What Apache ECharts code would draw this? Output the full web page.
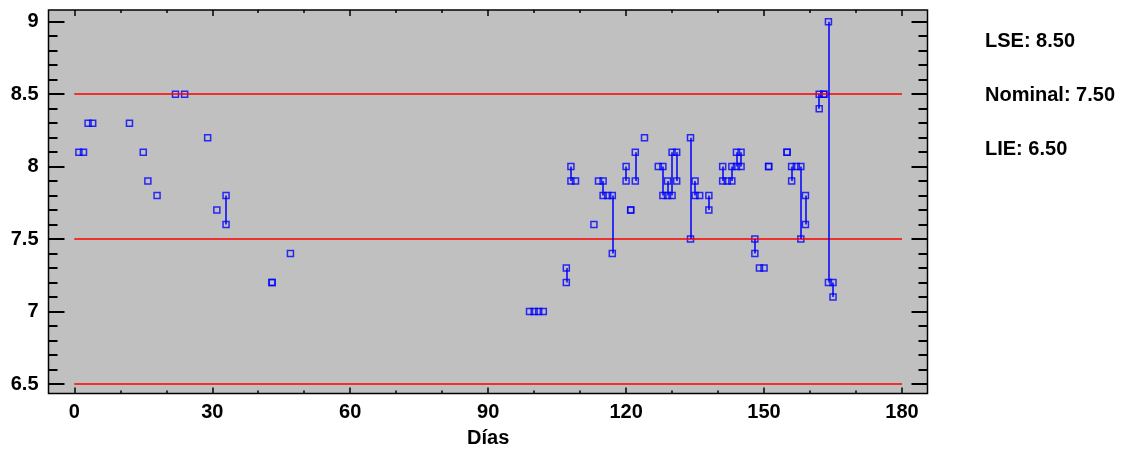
<!DOCTYPE html>
<html>
<head>
<meta charset="utf-8">
<script src="https://cdn.jsdelivr.net/npm/echarts@6/dist/echarts.min.js"></script>
<style>
  html, body { margin: 0; padding: 0; background: #fff; }
  #chart { width: 1121px; height: 449px; }
</style>
</head>
<body>
<div id="chart"></div>
<script>
// día de cada medición y su valor (mismo orden)
const dias = [
  1, 2, 3, 4, 12, 15, 16, 18, 22, 24, 29, 31, 33, 33, 43, 43, 47,
  99, 100, 101, 102, 107, 107, 108, 108, 109, 113, 114, 115, 115, 116, 117, 117,
  120, 120, 121, 121, 122, 122, 124, 127, 128, 128, 129, 129, 130, 130, 131, 131,
  134, 134, 135, 135, 136, 138, 138, 141, 141, 142, 143, 143, 144, 144, 145, 145,
  148, 148, 149, 150, 151, 151, 155, 155, 156, 156, 157, 158, 158, 159, 159,
  162, 162, 163, 163, 164, 164, 165, 165
];
const valores = [
  8.1, 8.1, 8.3, 8.3, 8.3, 8.1, 7.9, 7.8, 8.5, 8.5, 8.2, 7.7, 7.8, 7.6, 7.2, 7.2, 7.4,
  7.0, 7.0, 7.0, 7.0, 7.3, 7.2, 8.0, 7.9, 7.9, 7.6, 7.9, 7.9, 7.8, 7.8, 7.8, 7.4,
  8.0, 7.9, 7.7, 7.7, 8.1, 7.9, 8.2, 8.0, 8.0, 7.8, 7.9, 7.8, 8.1, 7.8, 8.1, 7.9,
  8.2, 7.5, 7.9, 7.8, 7.8, 7.8, 7.7, 8.0, 7.9, 7.9, 8.0, 7.9, 8.1, 8.0, 8.1, 8.0,
  7.5, 7.4, 7.3, 7.3, 8.0, 8.0, 8.1, 8.1, 8.0, 7.9, 8.0, 8.0, 7.5, 7.8, 7.6,
  8.5, 8.4, 8.5, 8.5, 9.0, 7.2, 7.2, 7.1
];

// límites de especificación
const nombresLimite = ['LSE', 'Nominal', 'LIE'];
const limites = [8.5, 7.5, 6.5];

const fuente = '"Liberation Sans", Arial, sans-serif';

const chart = echarts.init(document.getElementById('chart'));

// puntos
const puntos = dias.map((d, i) => [d, valores[i]]);

// línea vertical entre el mínimo y el máximo de cada día
const rangos = {};
dias.forEach((d, i) => {
  const v = valores[i];
  if (!rangos[d]) {
    rangos[d] = { min: v, max: v };
  } else {
    rangos[d].min = Math.min(rangos[d].min, v);
    rangos[d].max = Math.max(rangos[d].max, v);
  }
});
const lineasRango = Object.keys(rangos)
  .filter(d => rangos[d].max > rangos[d].min)
  .map(d => [{ coord: [Number(d), rangos[d].min] }, { coord: [Number(d), rangos[d].max] }]);

const ejeX = (pos, offset, conEtiquetas) => ({
  type: 'value',
  position: pos,
  offset: offset,
  min: 0,
  max: 180,
  interval: 30,
  axisLine: { show: false, onZero: false },
  axisTick: { inside: true, length: 6, lineStyle: { color: '#000', width: 1.5 } },
  minorTick: { show: true, splitNumber: 3, length: 3, lineStyle: { color: '#000', width: 1.5 } },
  splitLine: { show: false },
  axisLabel: {
    show: conEtiquetas,
    margin: 9,
    color: '#000',
    fontSize: 20,
    fontWeight: 'bold',
    fontFamily: fuente
  },
  name: conEtiquetas ? 'Días' : '',
  nameLocation: 'middle',
  nameGap: 35,
  nameTextStyle: { color: '#000', fontSize: 20, fontWeight: 'bold', fontFamily: fuente }
});

const ejeY = (pos, offset, conEtiquetas) => ({
  type: 'value',
  position: pos,
  offset: offset,
  min: 6.5,
  max: 9,
  interval: 0.5,
  axisLine: { show: false, onZero: false },
  axisTick: { inside: true, length: 16, lineStyle: { color: '#000', width: 2 } },
  minorTick: { show: true, splitNumber: 5, length: 9, lineStyle: { color: '#000', width: 2 } },
  splitLine: { show: false },
  axisLabel: {
    show: conEtiquetas,
    margin: 10,
    color: '#000',
    fontSize: 20,
    fontWeight: 'bold',
    fontFamily: fuente
  }
});

const options = {
  animation: false,
  grid: { left: 74.3, right: 219, top: 21.7, bottom: 65, containLabel: false, outerBoundsMode: 'none' },
  xAxis: [ejeX('bottom', 9.5, true), ejeX('top', 11.7, false)],
  yAxis: [ejeY('left', 25.8, true), ejeY('right', 25.5, false)],
  graphic: [
    {
      type: 'rect',
      z: -10,
      silent: true,
      shape: { x: 48.5, y: 10, width: 879, height: 383.5 },
      style: { fill: '#c0c0c0', stroke: '#000', lineWidth: 1.5 }
    },
    ...nombresLimite.map((n, i) => ({
      type: 'text',
      left: 985,
      top: 31 + i * 54,
      style: {
        text: n + ': ' + limites[i].toFixed(2),
        fill: '#000',
        font: 'bold 20px ' + fuente
      }
    }))
  ],
  series: [
    {
      name: 'limites',
      type: 'scatter',
      data: [],
      z: 1,
      markLine: {
        silent: true,
        symbol: 'none',
        label: { show: false },
        lineStyle: { color: '#ff0000', width: 1.5, type: 'solid' },
        data: limites.map(v => ({ yAxis: v }))
      }
    },
    {
      name: 'valores',
      type: 'scatter',
      data: puntos,
      z: 3,
      clip: false,
      symbol: 'rect',
      symbolSize: 6,
      itemStyle: { color: 'rgba(0,0,0,0)', borderColor: '#0000ff', borderWidth: 1.5 },
      emphasis: { disabled: true },
      markLine: {
        silent: true,
        symbol: 'none',
        label: { show: false },
        lineStyle: { color: '#0000ff', width: 1.5, type: 'solid' },
        data: lineasRango
      }
    }
  ]
};

chart.setOption(options);
</script>
</body>
</html>
